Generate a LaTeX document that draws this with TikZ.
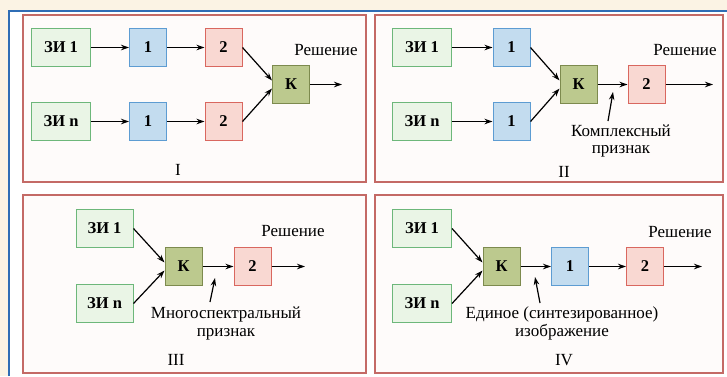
\documentclass[tikz,border=0pt]{standalone}
\usepackage{fontspec}
\setmainfont{Liberation Serif}
\usetikzlibrary{arrows.meta}
\definecolor{cream}{HTML}{FBF3E4}
\definecolor{frameblue}{HTML}{2F6DB5}
\definecolor{panelred}{HTML}{C46A66}
\definecolor{panelfill}{HTML}{FEFBFA}
\definecolor{srcline}{HTML}{6DB77A}
\definecolor{srcfill}{HTML}{EAF5E6}
\definecolor{oneline}{HTML}{5D9CD2}
\definecolor{onefill}{HTML}{C3DCEF}
\definecolor{twoline}{HTML}{D9675F}
\definecolor{twofill}{HTML}{F9D8D2}
\definecolor{kline}{HTML}{7D8A4E}
\definecolor{kfill}{HTML}{BCC98E}
\begin{document}
\begin{tikzpicture}[x=1pt,y=-1pt,
  panel/.style={draw=panelred, line width=1.4pt, fill=panelfill},
  blk/.style={draw, line width=1pt, minimum width=37pt, minimum height=38pt,
    inner sep=0pt, font=\rmfamily\bfseries\fontsize{16.5}{16.5}\selectfont},
  src/.style={blk, draw=srcline, fill=srcfill, minimum width=59pt},
  one/.style={blk, draw=oneline, fill=onefill},
  two/.style={blk, draw=twoline, fill=twofill},
  comb/.style={blk, draw=kline, fill=kfill},
  note/.style={font=\rmfamily\fontsize{17}{17.5}\selectfont, align=center, inner sep=0pt},
  numlbl/.style={font=\rmfamily\fontsize{17}{17}\selectfont},
  arr/.style={-{Stealth[length=8pt,width=5.5pt]}, line width=1.2pt}]
  \useasboundingbox (0,0) rectangle (727,376);
  \fill[cream] (0,0) rectangle (727,376);
  \fill[white] (9,11) rectangle (727,376);
  \draw[frameblue, line width=1.5pt] (9,376) -- (9,11) -- (727,11);
  \draw[panel] (23,15) rectangle (366,182);
  \draw[panel] (375,15) rectangle (723,182);
  \draw[panel] (23,195) rectangle (366,373);
  \draw[panel] (375,195) rectangle (723,373);
  % I
  \node[src] (s1I) at (61,47.5) {ЗИ 1};
  \node[one] (a1I) at (148,47.5) {1};
  \node[two] (b1I) at (223.5,47.5) {2};
  \node[src] (snI) at (61,121.5) {ЗИ n};
  \node[one] (anI) at (148,121.5) {1};
  \node[two] (bnI) at (223.5,121.5) {2};
  \node[comb] (kI) at (291,84.5) {К};
  \coordinate (outI) at (342,84.5);
  \node[note] (resI) at (326,50) {Решение};
  \node[numlbl] (nI) at (178,170) {I};
  \draw[arr] (s1I) -- (a1I);
  \draw[arr] (a1I) -- (b1I);
  \draw[arr] (snI) -- (anI);
  \draw[arr] (anI) -- (bnI);
  \draw[arr] (b1I.east) -- (kI.168);
  \draw[arr] (bnI.east) -- (kI.192);
  \draw[arr] (kI) -- (outI);
  % II
  \node[src] (s1II) at (422,47.5) {ЗИ 1};
  \node[one] (a1II) at (511.5,47.5) {1};
  \node[src] (snII) at (422,121.5) {ЗИ n};
  \node[one] (anII) at (511.5,121.5) {1};
  \node[comb] (kII) at (578.5,84.5) {К};
  \node[two] (bII) at (646.5,84.5) {2};
  \coordinate (outII) at (713,84.5);
  \node[note] (resII) at (685,50) {Решение};
  \node[note] (featII) at (621,141) {Комплексный\\признак};
  \coordinate (tailII) at (608,121);
  \coordinate (tipII) at (613,92);
  \node[numlbl] (nII) at (564,172) {II};
  \draw[arr] (s1II) -- (a1II);
  \draw[arr] (snII) -- (anII);
  \draw[arr] (a1II.east) -- (kII.168);
  \draw[arr] (anII.east) -- (kII.192);
  \draw[arr] (kII) -- (bII);
  \draw[arr] (bII) -- (outII);
  \draw[arr] (tailII) -- (tipII);
  % III
  \node[src, minimum width=57pt] (s1III) at (104.5,228.5) {ЗИ 1};
  \node[src, minimum width=57pt] (snIII) at (104.5,303.5) {ЗИ n};
  \node[comb] (kIII) at (183.5,266.5) {К};
  \node[two] (bIII) at (252.5,266.5) {2};
  \coordinate (outIII) at (305,266.5);
  \node[note] (resIII) at (293,231) {Решение};
  \node[note] (featIII) at (226,323.5) {Многоспектральный\\признак};
  \coordinate (tailIII) at (210,302);
  \coordinate (tipIII) at (215,278);
  \node[numlbl] (nIII) at (176,360) {III};
  \draw[arr] (s1III.east) -- (kIII.168);
  \draw[arr] (snIII.east) -- (kIII.192);
  \draw[arr] (kIII) -- (bIII);
  \draw[arr] (bIII) -- (outIII);
  \draw[arr] (tailIII) -- (tipIII);
  % IV
  \node[src] (s1IV) at (422,228.5) {ЗИ 1};
  \node[src] (snIV) at (422,303.5) {ЗИ n};
  \node[comb] (kIV) at (501.5,266.5) {К};
  \node[one] (aIV) at (570,266.5) {1};
  \node[two] (bIV) at (645,266.5) {2};
  \coordinate (outIV) at (702,266.5);
  \node[note] (resIV) at (680,232) {Решение};
  \node[note] (featIV) at (562,323.5) {Единое (синтезированное)\\изображение};
  \coordinate (tailIV) at (540,303);
  \coordinate (tipIV) at (535,277);
  \node[numlbl] (nIV) at (564,360) {IV};
  \draw[arr] (s1IV.east) -- (kIV.168);
  \draw[arr] (snIV.east) -- (kIV.192);
  \draw[arr] (kIV) -- (aIV);
  \draw[arr] (aIV) -- (bIV);
  \draw[arr] (bIV) -- (outIV);
  \draw[arr] (tailIV) -- (tipIV);
\end{tikzpicture}
\end{document}
